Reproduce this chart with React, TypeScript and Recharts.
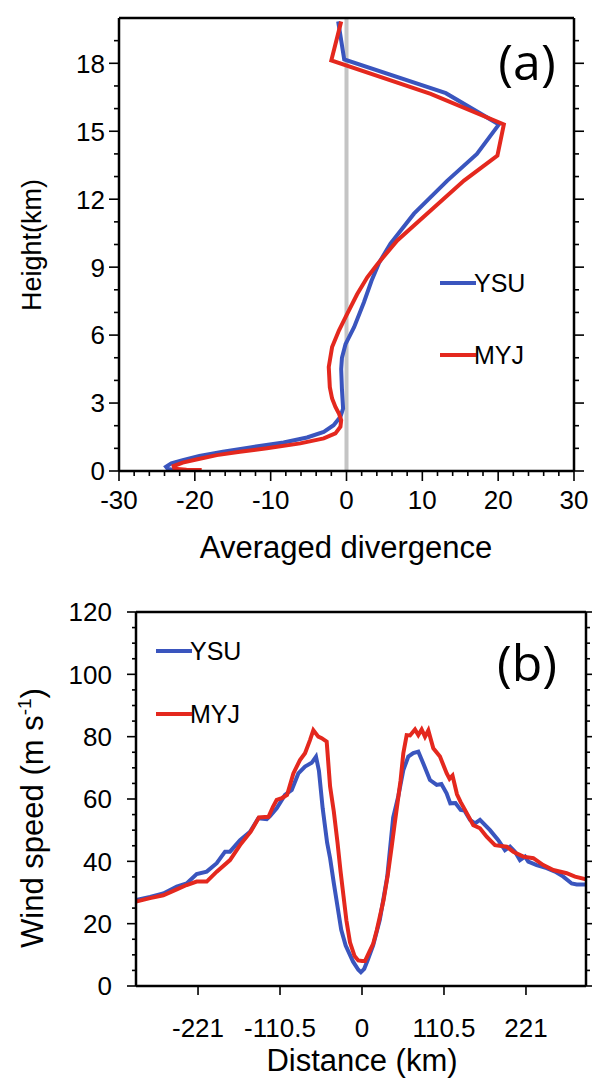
import React from 'react';
import { LineChart, Line, XAxis, YAxis, ReferenceLine, Legend, Label } from 'recharts';

// panel (a): averaged divergence profile vs height
const ysuDiv = [-1.1, -0.3, 13.1, 20.1, 17.2, 13.3, 8.9, 5.8, 4.3, 3.3, 2.3, 1.0, -0.13, -0.6, -0.7, -0.6, -0.45, -0.8, -1.7, -3.0, -5.2, -8.3, -12.7, -16.3, -19.4, -21.6, -23.1, -23.8, -23.6, -22.7];
const ysuHeight = [19.85, 18.17, 16.68, 15.3, 14.0, 12.82, 11.36, 10.04, 9.2, 8.4, 7.45, 6.35, 5.6, 5.0, 4.5, 3.6, 2.76, 2.39, 2.02, 1.73, 1.48, 1.26, 1.04, 0.85, 0.66, 0.48, 0.34, 0.19, 0.1, 0.04];
const myjDiv = [-0.7, -2.0, 11.1, 20.75, 19.9, 15.5, 11.1, 6.7, 4.07, 2.74, 1.4, 0.09, -1.0, -1.9, -2.34, -2.2, -1.9, -1.46, -1.0, -0.7, -0.8, -1.46, -3.0, -6.1, -10.5, -14.05, -17.1, -19.8, -21.6, -22.8, -22.7, -21.1, -19.1];
const myjHeight = [19.85, 18.13, 16.65, 15.3, 13.92, 12.82, 11.5, 10.18, 9.13, 8.55, 7.8, 6.94, 6.2, 5.47, 4.59, 3.7, 3.2, 2.83, 2.54, 2.24, 1.95, 1.66, 1.44, 1.22, 1.0, 0.85, 0.7, 0.51, 0.37, 0.22, 0.1, 0.06, 0.04];

// panel (b): wind speed vs distance
const ysuDist = [-304.6, -285.7, -267.8, -249.7, -236.3, -222.8, -209.3, -195.8, -184.6, -177.9, -164.4, -150.9, -139.8, -128.4, -124, -115, -103.8, -94.7, -85.8, -76.8, -67.8, -62, -58, -53, -47, -43, -38, -33, -28, -22, -12, -5, -1.5, 3, 8, 15, 24, 34, 42, 49, 55.7, 62.4, 69.1, 75.9, 82.6, 91.6, 100.7, 107, 114, 119, 126, 133, 138, 145.6, 152.3, 159, 172.5, 183.7, 192.7, 199.5, 206.2, 212.9, 219.7, 224.1, 235.4, 248.9, 260.1, 271.3, 282.6, 289.4, 301.9];
const ysuSpeed = [27.6, 28.6, 29.7, 31.9, 32.9, 35.9, 36.7, 39.4, 43.1, 43.1, 46.8, 49.5, 53.8, 53.5, 54.5, 57.0, 61.3, 62.9, 68.2, 70.4, 71.6, 73.6, 69, 57, 46, 41, 33, 25.5, 18, 13, 7.8, 5.2, 4.4, 5.5, 8.5, 13, 21.2, 35, 54, 61, 69.3, 73.6, 74.7, 75.2, 71.4, 66.1, 64.5, 64.8, 61.8, 58.6, 58.7, 56.5, 56.3, 53.3, 52.2, 53.3, 50.0, 46.8, 43.6, 44.7, 43.1, 40.4, 41.5, 39.9, 38.8, 37.8, 36.7, 35.1, 32.9, 32.6, 32.6];
const myjDist = [-304.6, -285.7, -267.8, -249.7, -236.3, -222.8, -209.3, -195.8, -177.9, -164.4, -150, -139, -126, -120, -115, -108, -101, -92.5, -83.6, -76.8, -70.1, -65.6, -58.9, -54.3, -47.6, -43, -38, -33, -29, -25, -21, -16.2, -10, -5, 0, 4, 10, 15, 20, 29, 35, 40, 44, 48, 52, 55.7, 60.2, 64.7, 71.4, 75.9, 80.4, 84.9, 89.4, 96.1, 105.1, 114.2, 118, 122, 128, 133, 138.8, 150, 159, 168, 179.2, 195, 203.9, 217.4, 230.9, 244.3, 257.8, 275.9, 287.1, 301.9];
const myjSpeed = [27.1, 28.2, 29.1, 31.0, 32.4, 33.5, 33.5, 36.7, 40.4, 45.2, 49.5, 54.1, 54.3, 57.5, 59.7, 60.3, 61.3, 68.2, 72.5, 74.7, 78.9, 82.1, 80.0, 79.5, 78.4, 64, 56, 46, 37, 29, 21, 14, 9.6, 8.2, 8, 8.0, 11, 13.5, 18, 27.5, 36, 44.7, 52, 59, 66, 74.7, 80.5, 80.4, 82.3, 80.5, 82.3, 80.0, 82.0, 76.3, 73.6, 68.2, 66.5, 67.5, 61.5, 59, 56.5, 51.6, 50.6, 47.9, 45.2, 44.7, 43.1, 41.5, 41.0, 38.8, 37.2, 36.2, 35.1, 34.2];

// ticks
const divTicks = [-30, -28, -26, -24, -22, -20, -18, -16, -14, -12, -10, -8, -6, -4, -2, 0, 2, 4, 6, 8, 10, 12, 14, 16, 18, 20, 22, 24, 26, 28, 30];
const heightTicks = [0, 1, 2, 3, 4, 5, 6, 7, 8, 9, 10, 11, 12, 13, 14, 15, 16, 17, 18, 19];
const distTicks = [-221, -110.5, 0, 110.5, 221];
const speedTicks = [0, 5, 10, 15, 20, 25, 30, 35, 40, 45, 50, 55, 60, 65, 70, 75, 80, 85, 90, 95, 100, 105, 110, 115, 120];
const legendOrder = ['YSU', 'MYJ'];

const BLUE = '#3a55be';
const RED = '#e4281e';
const FONT = 'Arial, "Liberation Sans", Helvetica, sans-serif';
const LETTER_FONT = '"Open Sans", sans-serif';

const zip = (xs: number[], ys: number[], kx: string, ky: string) =>
  xs.map((x, i) => ({ [kx]: x, [ky]: ys[i] }));

const ysuA = zip(ysuDiv, ysuHeight, 'd', 'h');
const myjA = zip(myjDiv, myjHeight, 'd', 'h');
const ysuB = zip(ysuDist, ysuSpeed, 'km', 'v');
const myjB = zip(myjDist, myjSpeed, 'km', 'v');

type Side = 'top' | 'bottom' | 'left' | 'right';

// tick marks of two lengths (major/minor), labels on majors only
const makeTick = (
  side: Side,
  isMajor: (v: number) => boolean,
  majorLen: number,
  minorLen: number,
  label?: { gap: number; size: number }
) => (props: any) => {
  const { x, y, payload } = props;
  const v = payload.value as number;
  const major = isMajor(v);
  const len = major ? majorLen : minorLen;
  let x2 = x;
  let y2 = y;
  if (side === 'bottom') y2 = y + len;
  if (side === 'top') y2 = y - len;
  if (side === 'left') x2 = x - len;
  if (side === 'right') x2 = x + len;
  let text = null;
  if (label && major) {
    if (side === 'bottom') {
      text = (
        <text x={x} y={y + label.gap} textAnchor="middle" fontSize={label.size} fontFamily={FONT} fill="#000">
          {String(v)}
        </text>
      );
    } else if (side === 'left') {
      text = (
        <text x={x - label.gap} y={y + label.size * 0.36} textAnchor="end" fontSize={label.size} fontFamily={FONT} fill="#000">
          {String(v)}
        </text>
      );
    }
  }
  return (
    <g>
      <line x1={x} y1={y} x2={x2} y2={y2} stroke="#000" strokeWidth={1.6} />
      {text}
    </g>
  );
};

const axisLine = { stroke: '#000', strokeWidth: 2.5 };

const LegendBox = ({ payload, rowGap }: any) => {
  const items = [...(payload || [])].sort(
    (a: any, b: any) => legendOrder.indexOf(a.value) - legendOrder.indexOf(b.value)
  );
  return (
    <svg width={140} height={rowGap + 40} style={{ display: 'block', overflow: 'visible' }}>
      {items.map((item: any, i: number) => (
        <g key={item.value}>
          <line x1={4} y1={20 + i * rowGap} x2={40} y2={20 + i * rowGap} stroke={item.color} strokeWidth={4} />
          <text x={38} y={20 + i * rowGap + 9} fontSize={25} fontFamily={FONT} fill="#000">
            {item.value}
          </text>
        </g>
      ))}
    </svg>
  );
};

const PanelA = () => (
  <LineChart width={592} height={580} margin={{ top: 0, right: 0, bottom: 0, left: 0 }}>
    <XAxis
      type="number"
      dataKey="d"
      domain={[-30, 30]}
      allowDataOverflow
      ticks={divTicks}
      interval={0}
      height={109}
      tickSize={0}
      tickMargin={0}
      axisLine={axisLine}
      tickLine={false}
      tick={makeTick('bottom', (v) => v % 10 === 0, 10, 5, { gap: 38, size: 26 })}
    >
      <Label
        content={() => (
          <text x={346} y={558} textAnchor="middle" fontSize={31} fontFamily={FONT} fill="#000">
            Averaged divergence
          </text>
        )}
      />
    </XAxis>
    <XAxis
      xAxisId="top"
      orientation="top"
      type="number"
      domain={[-30, 30]}
      allowDataOverflow
      ticks={divTicks}
      interval={0}
      height={18}
      tickSize={0}
      tickMargin={0}
      axisLine={axisLine}
      tickLine={false}
      tick={makeTick('top', (v) => v % 10 === 0, 10, 5)}
    >
      <Label
        content={() => (
          <text x={527} y={80} textAnchor="middle" fontSize={50} fontFamily={LETTER_FONT} fill="#000">
            (a)
          </text>
        )}
      />
    </XAxis>
    <YAxis
      type="number"
      domain={[0, 20]}
      allowDataOverflow
      ticks={heightTicks}
      interval={0}
      width={119}
      tickSize={0}
      tickMargin={0}
      axisLine={axisLine}
      tickLine={false}
      tick={makeTick('left', (v) => v % 3 === 0, 10, 5, { gap: 14, size: 26 })}
    >
      <Label
        content={() => (
          <text x={41} y={245} transform="rotate(-90 41 245)" textAnchor="middle" fontSize={27} fontFamily={FONT} fill="#000">
            Height(km)
          </text>
        )}
      />
    </YAxis>
    <YAxis
      yAxisId="right"
      orientation="right"
      type="number"
      domain={[0, 20]}
      allowDataOverflow
      ticks={heightTicks}
      interval={0}
      width={18}
      tickSize={0}
      tickMargin={0}
      axisLine={axisLine}
      tickLine={false}
      tick={makeTick('right', (v) => v % 3 === 0, 10, 5)}
    />
    <ReferenceLine x={0} stroke="#c4c4c4" strokeWidth={4} />
    <Line data={ysuA} dataKey="h" name="YSU" stroke={BLUE} strokeWidth={4} dot={false} type="linear" isAnimationActive={false} />
    <Line data={myjA} dataKey="h" name="MYJ" stroke={RED} strokeWidth={4} dot={false} type="linear" isAnimationActive={false} />
    <Legend
      layout="vertical"
      align="center"
      verticalAlign="middle"
      wrapperStyle={{ left: 436, top: 263, width: 140 }}
      content={(p: any) => <LegendBox payload={p.payload} rowGap={72} />}
    />
  </LineChart>
);

const PanelB = () => (
  <LineChart width={592} height={503} margin={{ top: 0, right: 0, bottom: 0, left: 0 }}>
    <XAxis
      type="number"
      dataKey="km"
      domain={[-304.6, 301.9]}
      allowDataOverflow
      ticks={distTicks}
      interval={0}
      height={97}
      tickSize={0}
      tickMargin={0}
      axisLine={axisLine}
      tickLine={false}
      tick={makeTick('bottom', () => true, 9, 9, { gap: 51, size: 26 })}
    >
      <Label
        content={() => (
          <text x={362} y={491} textAnchor="middle" fontSize={31} fontFamily={FONT} fill="#000">
            Distance (km)
          </text>
        )}
      />
    </XAxis>
    <XAxis
      xAxisId="top"
      orientation="top"
      type="number"
      domain={[-304.6, 301.9]}
      allowDataOverflow
      ticks={distTicks}
      interval={0}
      height={32}
      tickSize={0}
      tickMargin={0}
      axisLine={axisLine}
      tickLine={false}
      tick={makeTick('top', () => true, 9, 9)}
    >
      <Label
        content={() => (
          <text x={527} y={101} textAnchor="middle" fontSize={50} fontFamily={LETTER_FONT} fill="#000">
            (b)
          </text>
        )}
      />
    </XAxis>
    <YAxis
      type="number"
      domain={[0, 120]}
      allowDataOverflow
      ticks={speedTicks}
      interval={0}
      width={136}
      tickSize={0}
      tickMargin={0}
      axisLine={axisLine}
      tickLine={false}
      tick={makeTick('left', (v) => v % 20 === 0, 9, 4, { gap: 24, size: 26 })}
    >
      <Label
        content={() => (
          <text x={43} y={238} transform="rotate(-90 43 238)" textAnchor="middle" fontSize={31} fontFamily={FONT} fill="#000">
            <tspan>Wind speed (m s</tspan>
            <tspan dy={-12} fontSize={19}>-1</tspan>
            <tspan dy={12}>)</tspan>
          </text>
        )}
      />
    </YAxis>
    <YAxis
      yAxisId="right"
      orientation="right"
      type="number"
      domain={[0, 120]}
      allowDataOverflow
      ticks={speedTicks}
      interval={0}
      width={6}
      tickSize={0}
      tickMargin={0}
      axisLine={axisLine}
      tickLine={false}
      tick={makeTick('right', (v) => v % 20 === 0, 9, 4)}
    />
    <Line data={ysuB} dataKey="v" name="YSU" stroke={BLUE} strokeWidth={4} dot={false} type="linear" isAnimationActive={false} />
    <Line data={myjB} dataKey="v" name="MYJ" stroke={RED} strokeWidth={4} dot={false} type="linear" isAnimationActive={false} />
    <Legend
      layout="vertical"
      align="center"
      verticalAlign="middle"
      wrapperStyle={{ left: 152, top: 51, width: 140 }}
      content={(p: any) => <LegendBox payload={p.payload} rowGap={63} />}
    />
  </LineChart>
);

export default function App() {
  return (
    <div style={{ position: 'absolute', left: 0, top: 0, width: 592, height: 1083, background: '#fff' }}>
      <div style={{ position: 'absolute', left: 0, top: 0 }}>
        <PanelA />
      </div>
      <div style={{ position: 'absolute', left: 0, top: 580 }}>
        <PanelB />
      </div>
    </div>
  );
}
